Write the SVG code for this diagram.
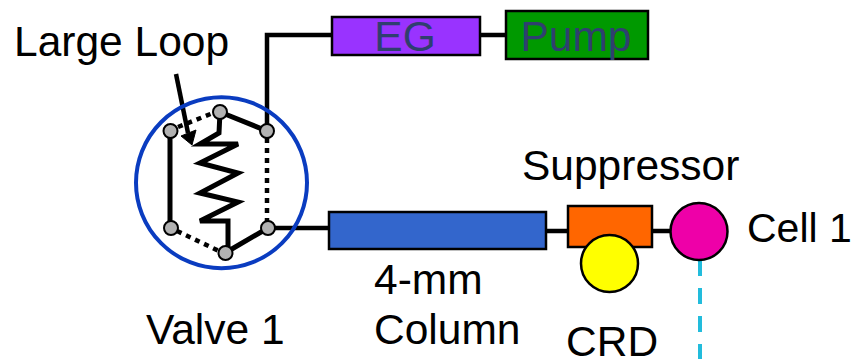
<svg xmlns="http://www.w3.org/2000/svg" width="853" height="359" viewBox="0 0 853 359">
<style>
text{font-family:"Liberation Sans",Arial,sans-serif;font-size:42.500px;fill:#000}
.c{fill:none;stroke:#000;stroke-width:4.500}
.z{fill:none;stroke:#000;stroke-width:5}
.d{fill:none;stroke:#000;stroke-width:4.500;stroke-dasharray:5 5}
.p{fill:#b2b2b2;stroke:#000;stroke-width:2}
.b{stroke:#000;stroke-width:2.500}
.l{fill:#2f3f6f;text-anchor:middle}
</style>
<g id="connectors">
<path class="c" d="M267 131V35H333M480 35H506M268 228H329M546 231H569M652 231H671"/>
<path class="z" d="M170 131V228M220 112L267 131M220 112L219 133L200 144H238L200 163L238 173L200 193L238 202L200 221H228V247M225 253L268 228"/>
<path class="d" d="M178 127L213 113M267 138V222M177 231L219 251"/>
<path class="c" d="M176 74L188 133"/>
<path d="M192 145L181 136L196 130Z" fill="#000" stroke="#000" stroke-width="1"/>
<path d="M700 260V359" fill="none" stroke="#22bcdc" stroke-width="4" stroke-dasharray="16 12"/>
</g>
<g id="valve">
<circle cx="221.500" cy="182.700" r="85.500" fill="none" stroke="#0a3cc0" stroke-width="4"/>
<circle class="p" cx="170.500" cy="131" r="7"/><circle class="p" cx="220" cy="112" r="7"/><circle class="p" cx="267" cy="131" r="7"/><circle class="p" cx="268" cy="228" r="7"/><circle class="p" cx="171" cy="228" r="7"/><circle class="p" cx="225.500" cy="253" r="7"/>
</g>
<g id="eg"><rect class="b" x="332" y="17" width="148" height="38" fill="#9933ff"/><text class="l" x="405" y="51">EG</text></g>
<g id="pump"><rect class="b" x="506" y="11" width="142" height="48" fill="#009900"/><text class="l" x="576" y="51">Pump</text></g>
<g id="column"><rect class="b" x="329" y="212" width="217" height="37" fill="#3366cc"/></g>
<g id="suppressor"><rect class="b" x="568" y="206" width="84" height="41" fill="#ff6600"/></g>
<g id="crd"><circle class="b" cx="609.500" cy="263.500" r="28.500" fill="#ffff00"/></g>
<g id="cell"><circle class="b" cx="699" cy="231.500" r="28.500" fill="#ee00a8"/></g>
<g id="labels">
<text x="14" y="56">Large Loop</text>
<text x="146" y="344">Valve 1</text>
<text x="374" y="294">4-mm</text>
<text x="374" y="344">Column</text>
<text x="522" y="180">Suppressor</text>
<text x="566" y="356">CRD</text>
<text x="747" y="242" style="font-size:41px">Cell 1</text>
</g>
</svg>
